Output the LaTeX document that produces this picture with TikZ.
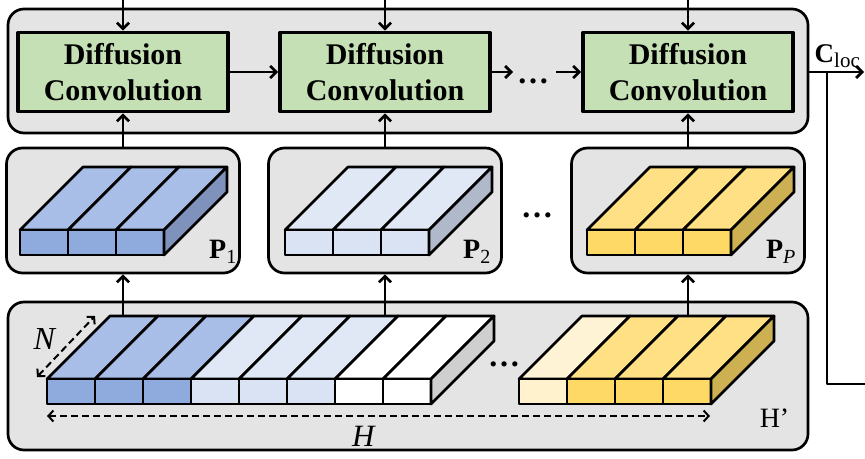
\documentclass[tikz,border=0pt]{standalone}
\usepackage{fontspec}
\setmainfont{Liberation Serif}
\usetikzlibrary{arrows.meta}
\definecolor{dcgreen}{HTML}{C5E0B4}
\definecolor{panelgray}{HTML}{E4E4E4}
\definecolor{blueF}{HTML}{8FAADC}
\definecolor{blueT}{HTML}{A9BEE6}
\definecolor{blueS}{HTML}{7F92BC}
\definecolor{lblueF}{HTML}{DAE3F3}
\definecolor{lblueT}{HTML}{E0E8F6}
\definecolor{lblueS}{HTML}{B0B9CA}
\definecolor{grayS}{HTML}{CFCFCF}
\definecolor{goldF}{HTML}{FFD966}
\definecolor{goldT}{HTML}{FFE084}
\definecolor{goldS}{HTML}{CCB052}
\definecolor{paleF}{HTML}{FFF2CC}
\definecolor{paleT}{HTML}{FFF3D5}
\newcommand{\drawslab}[5]{%
  \foreach \fc/\tc [count=\i from 0] in {#4}{
    \filldraw[fill=\tc] (#1+48*\i,#2)--++(48,0)--++(63,-63)--++(-48,0)--cycle;
    \filldraw[fill=\fc] (#1+48*\i,#2) rectangle ++(48,25);}
  \filldraw[fill=#5] (#1+48*#3,#2)--++(63,-63)--++(0,25)--++(-63,63)--cycle;}
\begin{document}
\begin{tikzpicture}[x=1pt,y=-1pt,line width=2.7pt,line join=round,
    >={Straight Barb[length=6pt,width=12pt]},font=\fontsize{28}{32}\selectfont]
  \tikzset{panel/.style={draw,fill=panelgray,rounded corners=16pt,inner sep=0pt},
    dcbox/.style={draw,fill=dcgreen,line width=3.8pt,minimum width=210,minimum height=79,
      align=center,inner sep=0pt,font=\bfseries\fontsize{30}{36}\selectfont},
    dimarrow/.style={<->,line width=2pt,dash pattern=on 7pt off 4pt,
      >={Straight Barb[length=5pt,width=11pt]}},
    dots/.style={font=\bfseries\fontsize{32}{36}\selectfont}}
  \useasboundingbox (0,0) rectangle (865,458);
  % top row
  \node[panel,minimum width=800,minimum height=124] (top) at (408,71) {};
  \foreach \n/\x in {1/123,2/385,3/688}{
      \node[dcbox] (dc\n) at (\x,72) {Diffusion\\Convolution};
      \coordinate (in\n) at (\x,0);
      \draw[->] (in\n) -- (dc\n);}
  \draw[->] (dc1) -- (dc2);
  \coordinate (a1) at (513,72);
  \coordinate (a2) at (556,72);
  \draw[->] (dc2) -- (a1);
  \draw[->] (a2) -- (dc3);
  \node[dots] (dt1) at (533,81) {…};
  \coordinate (cl) at (864,72);
  \draw[->] (top.east|-cl) -- (cl);
  \coordinate (j1) at (827,72);
  \coordinate (j2) at (865,384);
  \draw (j1) |- (j2);
  \node[anchor=base west,font=\fontsize{27}{30}\selectfont] (cloc) at (810,62)
      {\textbf{C}\raisebox{-5pt}{\fontsize{21}{21}\selectfont loc}};
  % middle row
  \foreach \n/\x in {1/123,2/385,3/688}{
      \node[panel,minimum width=233,minimum height=125] (p\n) at (\x,210.5) {};
      \draw[->] (p\n) -- (dc\n);}
  \drawslab{20}{230}{3}{blueF/blueT,blueF/blueT,blueF/blueT}{blueS}
  \drawslab{285}{230}{3}{lblueF/lblueT,lblueF/lblueT,lblueF/lblueT}{lblueS}
  \drawslab{587}{230}{3}{goldF/goldT,goldF/goldT,goldF/goldT}{goldS}
  \node[dots] (dt2) at (537,215) {…};
  \node[anchor=base east] (l1) at (241,258) {\textbf{P}\raisebox{-5pt}{\fontsize{20}{20}\selectfont 1}};
  \node[anchor=base east] (l2) at (495,258) {\textbf{P}\raisebox{-5pt}{\fontsize{20}{20}\selectfont 2}};
  \node[anchor=base east] (l3) at (800,258) {\textbf{P}\raisebox{-5pt}{\fontsize{20}{20}\selectfont\itshape P}};
  % bottom row
  \node[panel,minimum width=800,minimum height=148] (bot) at (408,376) {};
  \drawslab{47}{379}{8}{blueF/blueT,blueF/blueT,blueF/blueT,lblueF/lblueT,lblueF/lblueT,lblueF/lblueT,white/white,white/white}{grayS}
  \drawslab{519}{379}{4}{paleF/paleT,goldF/goldT,goldF/goldT,goldF/goldT}{goldS}
  \node[dots] (dt3) at (504,364) {…};
  \foreach \n/\x in {1/123,2/385,3/688}{
      \coordinate (h\n) at (\x,316);
      \draw[->] (h\n) -- (p\n);}
  \coordinate (hl) at (47,416);
  \coordinate (hr) at (710,416);
  \draw[dimarrow] (hl) -- (hr);
  \coordinate (nb) at (37,377);
  \coordinate (nt) at (95,316);
  \draw[dimarrow] (nb) -- (nt);
  \node[font=\fontsize{32}{36}\selectfont] (nlab) at (45,339) {\textit{N}};
  \node[font=\fontsize{31}{36}\selectfont] (hlab) at (364,436) {\textit{H}};
  \node[anchor=base east] (hp) at (794,427) {H’};
\end{tikzpicture}
\end{document}
